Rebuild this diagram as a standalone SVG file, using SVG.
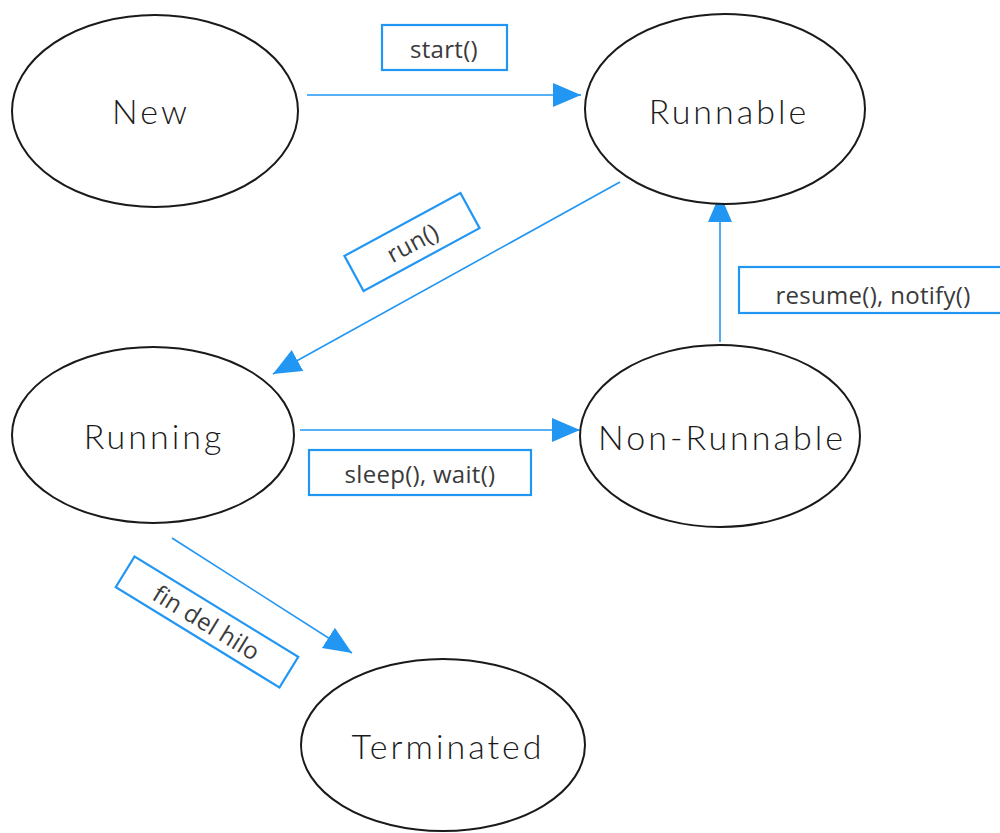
<svg xmlns="http://www.w3.org/2000/svg" width="1000" height="833" viewBox="0 0 1000 833">
  <style>
    .state ellipse { fill: #fff; stroke: #1a1a1a; stroke-width: 2; }
    .state text { font-family: "Lato", "DejaVu Sans", sans-serif; font-weight: 300; font-size: 34px; letter-spacing: 3px; fill: #1a1a1a; text-anchor: middle; dominant-baseline: central; }
    .edge line { stroke: #2196f3; stroke-width: 1.6; marker-end: url(#arrow); }
    .tag rect { fill: #fff; stroke: #2196f3; stroke-width: 2.2; }
    .tag text { font-family: "Open Sans", "Liberation Sans", sans-serif; font-size: 24px; letter-spacing: 0.3px; fill: #3a3a3a; text-anchor: middle; dominant-baseline: central; }
  </style>
  <defs>
    <marker id="arrow" markerUnits="userSpaceOnUse" markerWidth="30" markerHeight="26" refX="28" refY="12" orient="auto">
      <path d="M0,0 L28,12 L0,24 Z" fill="#2196f3"/>
    </marker>
  </defs>
  <rect width="1000" height="833" fill="#fff"/>

  <!-- transitions -->
  <g id="connectors" class="edge">
    <line x1="307" y1="95" x2="581" y2="95"/>
    <line x1="620" y1="182" x2="273" y2="374"/>
    <line x1="720" y1="342" x2="720" y2="194"/>
    <line x1="300" y1="430" x2="580" y2="430"/>
    <line x1="172" y1="538" x2="352" y2="653"/>
  </g>

  <!-- transition labels -->
  <g id="label-start" class="tag">
    <rect x="382" y="25" width="125" height="45"/>
    <text x="444" y="48">start()</text>
  </g>
  <g id="label-run" class="tag" transform="translate(412,242) rotate(-28.5)">
    <rect x="-66" y="-20" width="132" height="40"/>
    <text x="0" y="0">run()</text>
  </g>
  <g id="label-resume" class="tag">
    <rect x="739" y="267" width="270" height="46"/>
    <text x="873" y="294">resume(), notify()</text>
  </g>
  <g id="label-sleep" class="tag">
    <rect x="309" y="450" width="222" height="45"/>
    <text x="420" y="473">sleep(), wait()</text>
  </g>
  <g id="label-end" class="tag" transform="translate(207,622) rotate(31.5)">
    <rect x="-96" y="-18" width="192" height="36"/>
    <text x="0" y="0">fin del hilo</text>
  </g>

  <!-- states -->
  <g id="state-new" class="state">
    <ellipse cx="155" cy="111" rx="143" ry="96"/>
    <text x="151" y="110">New</text>
  </g>
  <g id="state-runnable" class="state">
    <ellipse cx="725" cy="109" rx="140" ry="95"/>
    <text x="729" y="110">Runnable</text>
  </g>
  <g id="state-running" class="state">
    <ellipse cx="153" cy="435" rx="141" ry="88"/>
    <text x="154" y="435">Running</text>
  </g>
  <g id="state-nonrunnable" class="state">
    <ellipse cx="720" cy="436" rx="140" ry="91"/>
    <text x="722" y="436">Non-Runnable</text>
  </g>
  <g id="state-terminated" class="state">
    <ellipse cx="443" cy="745" rx="142" ry="86"/>
    <text x="448" y="745">Terminated</text>
  </g>
</svg>
